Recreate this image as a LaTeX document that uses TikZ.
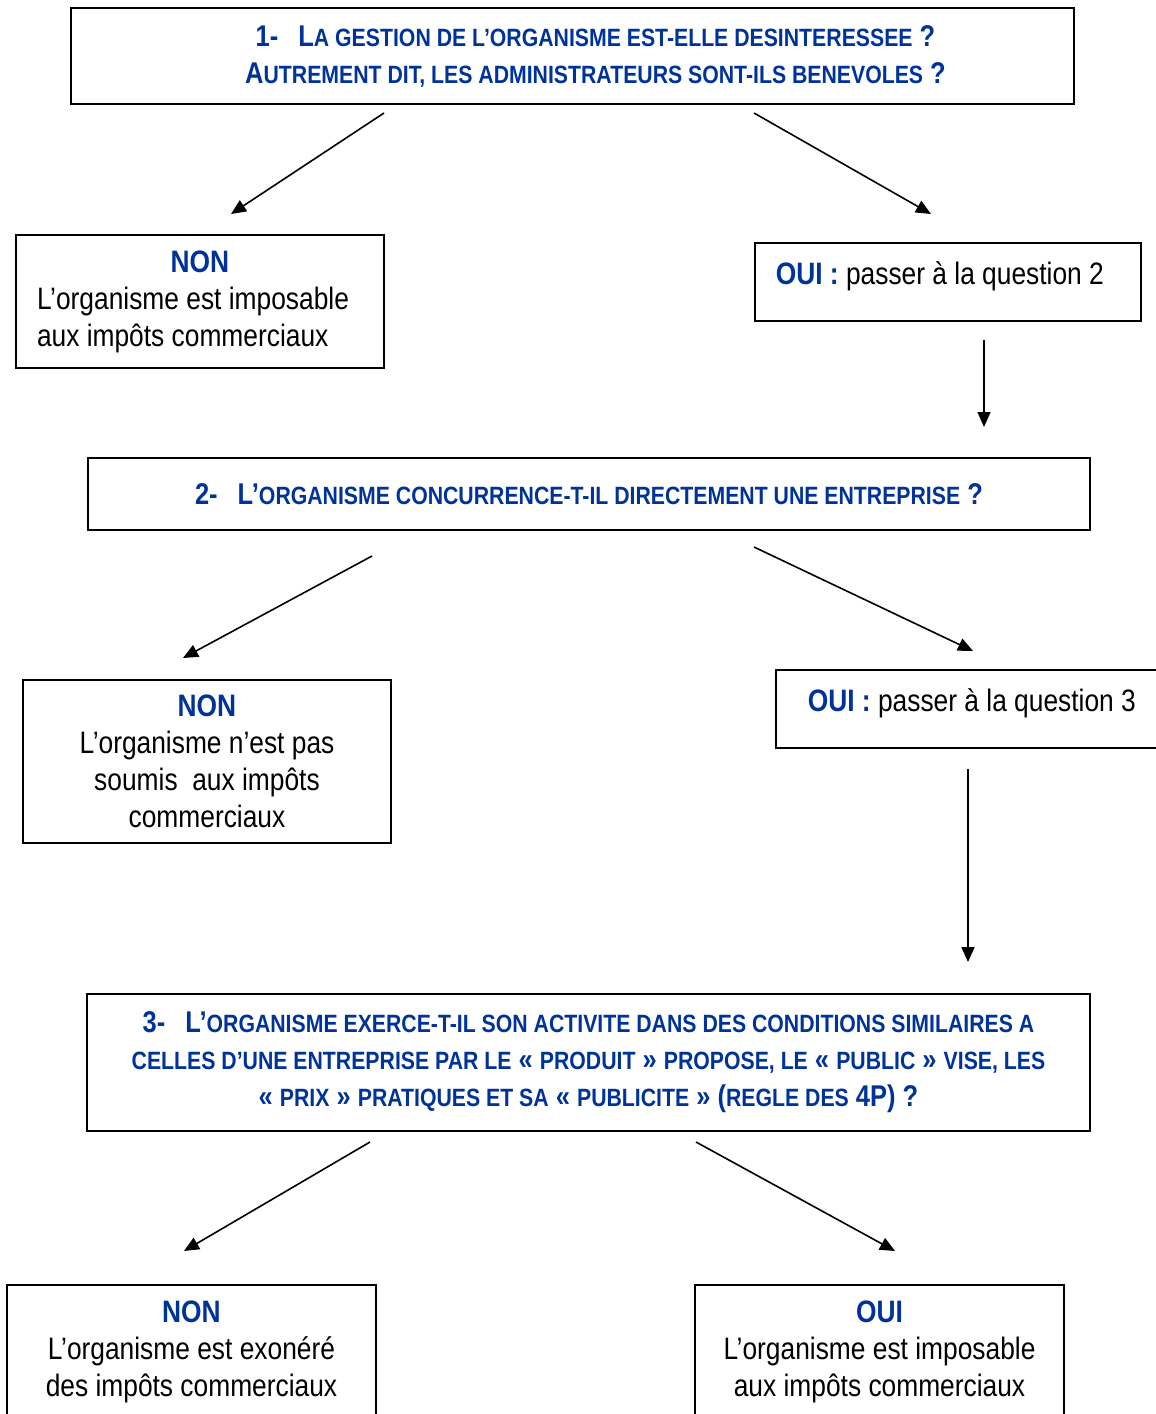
\documentclass[tikz,border=0pt]{standalone}
\usepackage{fontspec}
\setmainfont{Liberation Sans}[FakeStretch=0.85]
\usetikzlibrary{arrows.meta}
\definecolor{qblue}{RGB}{0,51,153}
\newcommand{\petit}[1]{{\fontsize{25}{37}\selectfont #1}}
\newcommand{\repnon}{\makebox[\linewidth]{\textcolor{qblue}{\bfseries NON}}}

\tikzset{
  qbox/.style={draw, line width=1.6pt, inner sep=0pt, align=center, text=qblue,
    font=\fontsize{30}{37}\selectfont\bfseries},
  rbox/.style={draw, line width=1.6pt, inner ysep=0pt, inner xsep=0pt,
    font=\fontsize{31}{37}\selectfont},
  obox/.style={draw, line width=1.6pt, inner ysep=0pt, align=flush left,
    text height=42pt, text depth=36pt, anchor=north west,
    font=\fontsize{31}{37}\selectfont},
  arr/.style={line width=1.6pt, -{Triangle[length=15pt,width=13pt]}}
}

\begin{document}
\begin{tikzpicture}[x=1pt, y={(0pt,-1pt)}]
\useasboundingbox (0,0) rectangle (1156,1414);
\clip (0,0) rectangle (1156,1414);

% question 1
\node[qbox, minimum width=1003, minimum height=96] (q1) at (572.5,56)
  {\hspace*{46pt}1-\hspace{20pt}L\petit{A GESTION DE L’ORGANISME EST-ELLE DESINTERESSEE} ?\\
   \hspace*{46pt}A\petit{UTREMENT DIT, LES ADMINISTRATEURS SONT-ILS BENEVOLES} ?};
\node[rbox, minimum width=368, minimum height=133, text width=326, align=flush left] (non1) at (200,301.5)
  {\repnon\\ L’organisme est imposable\\ aux impôts commerciaux};
\node[obox, inner xsep=21pt, text width=344] (oui1) at (754,242)
  {\textcolor{qblue}{\bfseries OUI :} passer à la question 2};

\coordinate (q1l) at (384,113);
\coordinate (q1r) at (754,113);
\coordinate (non1t) at (231,214);
\coordinate (oui1t) at (931,214);
\draw[arr] (q1l) -- (non1t);
\draw[arr] (q1r) -- (oui1t);
\coordinate (oui1b) at (984,340);
\coordinate (q2t) at (984,427);
\draw[arr] (oui1b) -- (q2t);

% question 2
\node[qbox, minimum width=1002, minimum height=72] (q2) at (589,494)
  {2-\hspace{20pt}L’\petit{ORGANISME CONCURRENCE-T-IL DIRECTEMENT UNE ENTREPRISE} ?};
\node[rbox, minimum width=368, minimum height=163, text width=340, align=flush center] (non2) at (207,761.5)
  {\textcolor{qblue}{\bfseries NON}\\ L’organisme n’est pas\\ soumis~ aux impôts\\ commerciaux};
\node[obox, inner xsep=32pt, text width=360] (oui2) at (775,669)
  {\textcolor{qblue}{\bfseries OUI :} passer à la question 3};

\coordinate (q2l) at (372,556);
\coordinate (q2r) at (754,547);
\coordinate (non2t) at (183,658);
\coordinate (oui2t) at (973,651);
\draw[arr] (q2l) -- (non2t);
\draw[arr] (q2r) -- (oui2t);
\coordinate (oui2b) at (968,769);
\coordinate (q3t) at (968,962);
\draw[arr] (oui2b) -- (q3t);

% question 3
\node[qbox, minimum width=1003, minimum height=137] (q3) at (588.5,1062.5)
  {3-\hspace{20pt}L’\petit{ORGANISME EXERCE-T-IL SON ACTIVITE DANS DES CONDITIONS SIMILAIRES A}\\
   \petit{CELLES D’UNE ENTREPRISE PAR LE} « \petit{PRODUIT} » \petit{PROPOSE, LE} « \petit{PUBLIC} » \petit{VISE, LES}\\
   « \petit{PRIX} » \petit{PRATIQUES ET SA} « \petit{PUBLICITE} » (\petit{REGLE DES} 4P) ?};
\node[rbox, minimum width=369, minimum height=134, text width=340, align=flush center] (non3) at (191.5,1352)
  {\textcolor{qblue}{\bfseries NON}\\ L’organisme est exonéré\\ des impôts commerciaux};
\node[rbox, minimum width=369, minimum height=134, text width=340, align=flush center] (oui3) at (879.5,1352)
  {\textcolor{qblue}{\bfseries OUI}\\ L’organisme est imposable\\ aux impôts commerciaux};

\coordinate (q3l) at (370,1142);
\coordinate (q3r) at (696,1142);
\coordinate (non3t) at (184,1251);
\coordinate (oui3t) at (895,1251);
\draw[arr] (q3l) -- (non3t);
\draw[arr] (q3r) -- (oui3t);
\end{tikzpicture}
\end{document}
